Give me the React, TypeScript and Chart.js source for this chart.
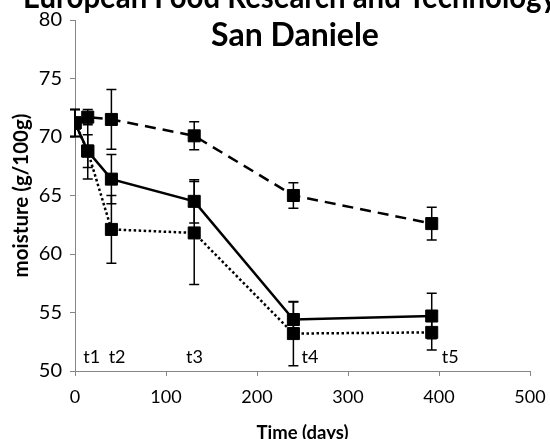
import React, { useEffect, useRef } from "react";
import { Chart, registerables } from "chart.js";

Chart.register(...registerables);

const days = [0, 14, 40, 131, 240, 392];
const solidValues = [71.2, 68.8, 66.4, 64.5, 54.4, 54.7];
const solidErrors = [1.15, 2.4, 2.1, 1.85, 1.5, 1.95];
const dottedValues = [71.2, 68.8, 62.1, 61.8, 53.2, 53.3];
const dottedErrors = [1.15, 1.4, 2.9, 4.4, 2.75, 1.5];
const dashedValues = [71.2, 71.7, 71.5, 70.1, 65.0, 62.6];
const dashedErrors = [1.15, 0.65, 2.55, 1.2, 1.1, 1.4];

const timeLabels = ["t1", "t2", "t3", "t4", "t5"];
const timeLabelDays = [9, 37, 122, 249, 403];
const timeLabelLevel = 51.2;

const titleLines = ["European Food Research and Technology", "San Daniele"];
const xTitle = "Time (days)";
const yTitle = "moisture (g/100g)";

const FONT = "Lato, 'Open Sans', sans-serif";
const AXIS_GRAY = "#868686";

const errorBarPlugin = {
  id: "errorBars",
  afterDatasetsDraw(chart: any) {
    const ctx = chart.ctx;
    const xs = chart.scales.x;
    const ys = chart.scales.y;
    ctx.save();
    ctx.strokeStyle = "#000";
    ctx.lineWidth = 1.5;
    chart.data.datasets.forEach((ds: any) => {
      const errs: number[] = ds.errors || [];
      ds.data.forEach((p: any, i: number) => {
        const e = errs[i];
        if (e == null) return;
        const x = xs.getPixelForValue(p.x);
        const y1 = ys.getPixelForValue(p.y + e);
        const y2 = ys.getPixelForValue(p.y - e);
        const cap = 5;
        ctx.beginPath();
        ctx.moveTo(x, y1);
        ctx.lineTo(x, y2);
        ctx.moveTo(x - cap, y1);
        ctx.lineTo(x + cap, y1);
        ctx.moveTo(x - cap, y2);
        ctx.lineTo(x + cap, y2);
        ctx.stroke();
      });
    });
    ctx.restore();
  },
};

const annotationPlugin = {
  id: "annotations",
  afterDraw(chart: any) {
    const ctx = chart.ctx;
    const xs = chart.scales.x;
    const ys = chart.scales.y;
    ctx.save();
    ctx.fillStyle = "#000";
    ctx.font = `18px ${FONT}`;
    ctx.textAlign = "left";
    ctx.textBaseline = "middle";
    timeLabels.forEach((t, i) => {
      ctx.fillText(t, xs.getPixelForValue(timeLabelDays[i]), ys.getPixelForValue(timeLabelLevel));
    });
    ctx.font = `bold 32px ${FONT}`;
    ctx.textAlign = "center";
    ctx.textBaseline = "alphabetic";
    ctx.fillText(titleLines[0], 290, 8, 534);
    ctx.fillText(titleLines[1], 295, 46);
    ctx.restore();
  },
};

export default function App() {
  const ref = useRef<HTMLCanvasElement | null>(null);
  useEffect(() => {
    if (!ref.current) return;
    const mk = (vals: number[]) => days.map((d, i) => ({ x: d, y: vals[i] }));
    const common = {
      borderColor: "#000",
      backgroundColor: "#000",
      pointStyle: "rect",
      pointRadius: 8.5,
      pointBorderWidth: 1,
      pointBackgroundColor: "#000",
      pointBorderColor: "#000",
      borderWidth: 2.5,
      tension: 0,
      fill: false,
      showLine: true,
    };
    const chart = new Chart(ref.current, {
      type: "scatter",
      data: {
        datasets: [
          { ...common, label: "dashed", data: mk(dashedValues), errors: dashedErrors, borderDash: [11, 7] } as any,
          { ...common, label: "dotted", data: mk(dottedValues), errors: dottedErrors, borderDash: [2.5, 2.5] } as any,
          { ...common, label: "solid", data: mk(solidValues), errors: solidErrors } as any,
        ],
      },
      options: {
        responsive: false,
        animation: false,
        layout: { padding: { left: 0, top: 11, right: 20, bottom: 0 } },
        plugins: {
          legend: { display: false },
          tooltip: { enabled: false },
          title: { display: false },
        },
        scales: {
          x: {
            type: "linear",
            min: 0,
            max: 500,
            ticks: { stepSize: 100, color: "#000", font: { family: FONT, size: 18, lineHeight: 2 }, padding: 3 },
            grid: { drawOnChartArea: false, drawTicks: true, tickLength: 5, color: AXIS_GRAY },
            border: { color: AXIS_GRAY, width: 1 },
            title: {
              display: true,
              text: xTitle,
              color: "#000",
              font: { family: FONT, size: 18.5, weight: "bold" },
              padding: { top: 0, bottom: -5 },
            },
            afterFit: (axis: any) => {
              axis.height = 68;
            },
          },
          y: {
            type: "linear",
            min: 50,
            max: 80,
            ticks: { stepSize: 5, color: "#000", font: { family: FONT, size: 20 }, padding: 8 },
            grid: { drawOnChartArea: false, drawTicks: true, tickLength: 5, color: AXIS_GRAY },
            border: { color: AXIS_GRAY, width: 1 },
            title: {
              display: true,
              text: yTitle,
              color: "#000",
              font: { family: FONT, size: 20.5, weight: "bold" },
              padding: { top: 9.5, bottom: 0 },
            },
            afterFit: (axis: any) => {
              axis.width = 75;
            },
          },
        },
      } as any,
      plugins: [errorBarPlugin, annotationPlugin],
    });
    return () => chart.destroy();
  }, []);
  return (
    <div style={{ position: "fixed", left: 0, top: 0, width: 550, height: 439, background: "#fff" }}>
      <canvas ref={ref} width={550} height={439} style={{ display: "block", width: 550, height: 439 }} />
    </div>
  );
}
